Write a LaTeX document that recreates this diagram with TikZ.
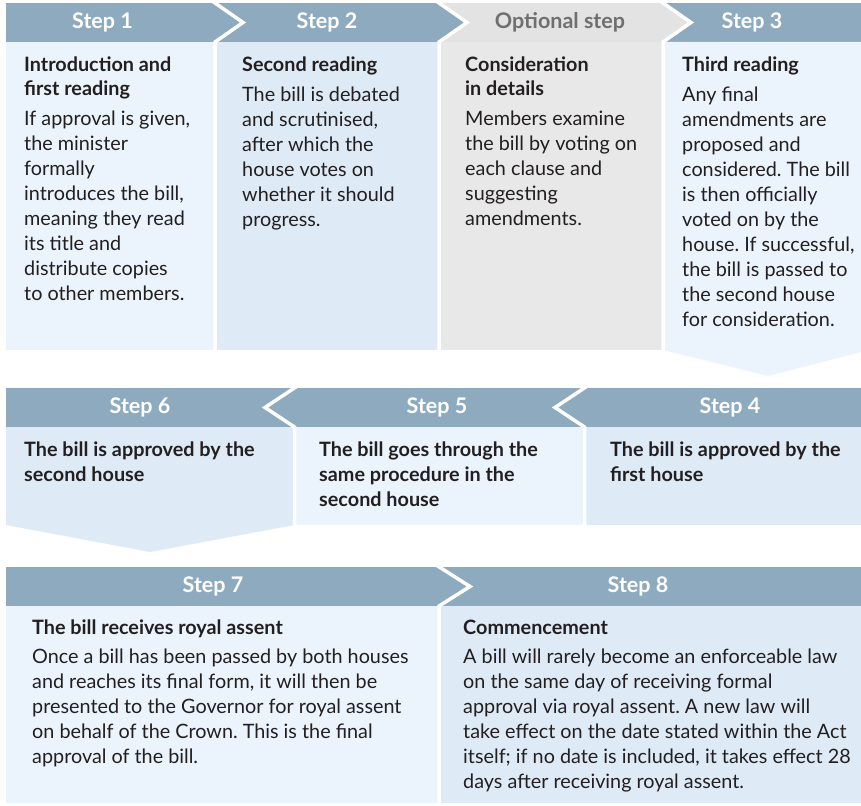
\documentclass[tikz,border=0pt]{standalone}
\usepackage{fontspec}
\setmainfont{Lato}
\frenchspacing
\definecolor{hdr}{HTML}{8EAABF}
\definecolor{opthdr}{HTML}{E3E3E3}
\definecolor{opttxt}{HTML}{6F6F6F}
\definecolor{lightbox}{HTML}{EBF4FC}
\definecolor{darkbox}{HTML}{DEEBF7}
\definecolor{greybox}{HTML}{E8E8E8}
\definecolor{txt}{HTML}{231F20}
\begin{document}
\begin{tikzpicture}[x=1pt,y=-1pt,
  hdrtxt/.style={text=white, inner sep=0pt, font=\bfseries\fontsize{21.5}{24}\selectfont},
  bodytxt/.style={anchor=base west, align=left, inner sep=0pt, text=txt, font=\fontsize{19.8}{25}\selectfont},
  boldtxt/.style={bodytxt, font=\bfseries\fontsize{19.8}{25}\selectfont},
  sep/.style={white, line width=3.5pt, line join=miter}]
\useasboundingbox (0,0) rectangle (861,805);
% ---------- row 1 ----------
\fill[hdr] (6,3) rectangle (861,42);
\fill[opthdr] (439,3) -- (663,3) -- (689,22.5) -- (663,42) -- (439,42) -- (467,22.5) -- cycle;
\fill[lightbox] (6,42) rectangle (215,350);
\fill[darkbox] (215,42) rectangle (439,350);
\fill[greybox] (439,42) rectangle (663,350);
\fill[lightbox] (663,42) -- (861,42) -- (861,352) -- (768,376) -- (663,350) -- cycle;
\draw[sep] (210.7,0) -- (243,22.5) -- (215,42) -- (215,351);
\draw[sep] (434.7,0) -- (467,22.5) -- (439,42) -- (439,351);
\draw[sep] (658.7,0) -- (691,22.5) -- (663,42) -- (663,351);
\node[hdrtxt] (h1) at (102.5,22.5) {Step 1};
\node[hdrtxt] (h2) at (327,22.5) {Step 2};
\node[hdrtxt, text=opttxt] (ho) at (560,22.5) {Optional step};
\node[hdrtxt] (h3) at (752,22.5) {Step 3};
\node[bodytxt] (t1) at (24,300.5) {\textbf{Introduction and}\\[-1pt]\textbf{first reading}\\[5pt]If approval is given,\\the minister\\formally\\introduces the bill,\\meaning they read\\its title and\\distribute copies\\to other members.};
\node[bodytxt] (t2) at (242,226.5) {\textbf{Second reading}\\[5pt]The bill is debated\\and scrutinised,\\after which the\\house votes on\\whether it should\\progress.};
\node[bodytxt] (to) at (465,225.5) {\textbf{Consideration}\\[-1pt]\textbf{in details}\\[5pt]Members examine\\the bill by voting on\\each clause and\\suggesting\\amendments.};
\node[bodytxt] (t3) at (682,326.5) {\textbf{Third reading}\\[5pt]Any final\\amendments are\\proposed and\\considered. The bill\\is then officially\\voted on by the\\house. If successful,\\the bill is passed to\\the second house\\for consideration.};
% ---------- row 2 ----------
\fill[hdr] (6,388) rectangle (861,427);
\fill[darkbox] (6,427) -- (294.5,427) -- (294.5,525) -- (150,552) -- (6,525) -- cycle;
\fill[lightbox] (294.5,427) rectangle (584.5,525);
\fill[darkbox] (584.5,427) rectangle (861,525);
\draw[sep] (297.4,386) -- (265,407.5) -- (294.5,427) -- (294.5,526);
\draw[sep] (587.4,386) -- (555,407.5) -- (584.5,427) -- (584.5,526);
\node[hdrtxt] (h6) at (140,407.5) {Step 6};
\node[hdrtxt] (h5) at (437,407.5) {Step 5};
\node[hdrtxt] (h4) at (730,407.5) {Step 4};
\node[boldtxt] (t6) at (24,481.5) {The bill is approved by the\\second house};
\node[boldtxt] (t5) at (319,506.5) {The bill goes through the\\same procedure in the\\second house};
\node[boldtxt] (t4) at (610,481.5) {The bill is approved by the\\first house};
% ---------- row 3 ----------
\fill[hdr] (6,567) rectangle (861,606);
\fill[lightbox] (6,606) rectangle (439,803);
\fill[darkbox] (439,606) rectangle (861,803);
\draw[sep] (436.1,565) -- (470,586.5) -- (439,606) -- (439,805);
\node[hdrtxt] (h7) at (213,586.5) {Step 7};
\node[hdrtxt] (h8) at (638,586.5) {Step 8};
\node[bodytxt] (t7) at (32,763) {\textbf{The bill receives royal assent}\\[4pt]Once a bill has been passed by both houses\\and reaches its final form, it will then be\\presented to the Governor for royal assent\\on behalf of the Crown. This is the final\\approval of the bill.};
\node[bodytxt] (t8) at (463,788) {\textbf{Commencement}\\[4pt]A bill will rarely become an enforceable law\\on the same day of receiving formal\\approval via royal assent. A new law will\\take effect on the date stated within the Act\\itself; if no date is included, it takes effect 28\\days after receiving royal assent.};
\end{tikzpicture}
\end{document}
